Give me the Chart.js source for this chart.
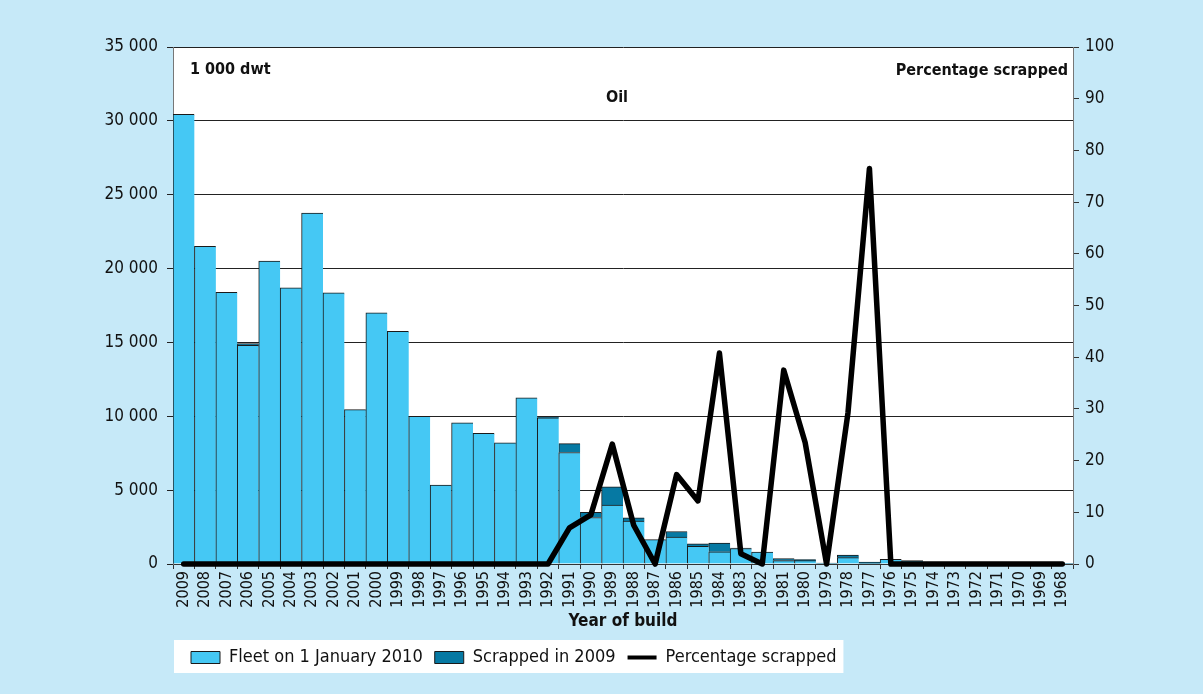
<!DOCTYPE html>
<html><head><meta charset="utf-8">
<script src="https://cdn.jsdelivr.net/npm/chart.js@4"></script>
<style>html,body{margin:0;padding:0;background:#c6e9f8;}canvas{display:block}</style>
</head><body>
<canvas id="c" width="1203" height="694"></canvas>
<script>
const years = ['2009','2008','2007','2006','2005','2004','2003','2002','2001','2000','1999','1998','1997','1996','1995','1994','1993','1992','1991','1990','1989','1988','1987','1986','1985','1984','1983','1982','1981','1980','1979','1978','1977','1976','1975','1974','1973','1972','1971','1970','1969','1968'];
const fleet = [30450,21500,18400,14800,20500,18700,23750,18350,10450,17000,15750,10000,5350,9550,8850,8200,11250,9900,7550,3150,3990,2900,1650,1820,1200,830,1050,800,230,230,60,430,30,320,230,40,30,30,30,20,20,20];
const scrapped = [0,0,0,120,0,0,0,0,0,0,0,0,0,0,0,0,0,60,600,350,1230,230,0,380,170,580,25,0,140,70,0,180,95,0,0,0,0,0,0,0,0,0];
const pctScrapped = [0,0,0,0,0,0,0,0,0,0,0,0,0,0,0,0,0,0,7,9.5,23.2,7.5,0,17.3,12.2,40.8,2,0,37.5,23.5,0,29.3,76.5,0,0,0,0,0,0,0,0,0];
const seriesNames = ['Fleet on 1 January 2010','Scrapped in 2009','Percentage scrapped'];
const axisTitle = 'Year of build';
const notes = {left:'1 000 dwt', center:'Oil', right:'Percentage scrapped'};

const FAM = "'Liberation Sans Narrow','DejaVu Sans Condensed','Arial Narrow',sans-serif";
const BG = '#c6e9f8';
const fmt = v => String(v).replace(/\B(?=(\d{3})+(?!\d))/g, ' ');

const deco = {
  id:'deco',
  afterLayout(chart){
    const lg = chart.legend;
    const h = lg.height;
    lg.left = 179; lg.right = 1203;
    lg.top = 656.5 - h/2; lg.bottom = lg.top + h;
  },
  beforeDraw(chart){
    const {ctx, chartArea:a} = chart;
    ctx.save();
    ctx.fillStyle = BG; ctx.fillRect(0,0,chart.width,chart.height);
    ctx.fillStyle = '#fff'; ctx.fillRect(a.left,a.top,a.right-a.left,a.bottom-a.top);
    const hb = chart.legend.legendHitBoxes;
    if (hb && hb.length){
      const l = Math.min(...hb.map(b=>b.left)) - 17;
      const r = Math.max(...hb.map(b=>b.left+b.width)) + 7;
      ctx.fillRect(l, 640, r-l, 33);
    }
    ctx.restore();
  },
  afterDatasetsDraw(chart){
    const {ctx} = chart;
    ctx.save();
    ctx.fillStyle = '#111';
    ctx.font = "bold 16px " + FAM;
    ctx.textBaseline = 'middle';
    ctx.textAlign = 'left'; ctx.fillText(notes.left, 190, 70);
    ctx.textAlign = 'center'; ctx.fillText(notes.center, 617, 98);
    ctx.textAlign = 'right'; ctx.fillText(notes.right, 1068, 71);
    ctx.restore();
  }
};

const chart = new Chart(document.getElementById('c'), {
  data:{
    labels: years,
    datasets:[
      {type:'bar', label:seriesNames[0], data:fleet, backgroundColor:'#45c8f4', borderColor:'#1a1a1a',
       borderWidth:{top:1,left:1,right:0,bottom:0}, borderSkipped:false, barPercentage:1, categoryPercentage:1, yAxisID:'y', order:1},
      {type:'bar', label:seriesNames[1], data:scrapped, backgroundColor:'#0679a3', borderColor:'#1a1a1a',
       borderWidth:{top:1,left:1,right:0,bottom:0}, borderSkipped:false, barPercentage:1, categoryPercentage:1, yAxisID:'y', order:1},
      {type:'line', label:seriesNames[2], data:pctScrapped, borderColor:'#000', backgroundColor:'#000', borderWidth:5.5,
       pointRadius:0, tension:0, yAxisID:'y1', order:0, borderJoinStyle:'round', borderCapStyle:'round', clip:false}
    ]
  },
  options:{
    responsive:false, animation:false, devicePixelRatio:1,
    layout:{padding:{top:47,left:0,right:0,bottom:20}},
    plugins:{
      tooltip:{enabled:false},
      legend:{position:'bottom', align:'start',
        labels:{usePointStyle:true, pointStyleWidth:29, boxWidth:29, boxHeight:12, padding:12, color:'#111',
          font:{family:FAM, size:18},
          generateLabels(chart){
            return chart.data.datasets.map((ds,i)=>({
              text:ds.label, datasetIndex:i, hidden:false,
              fillStyle: ds.type==='line' ? '#000' : ds.backgroundColor,
              strokeStyle: ds.type==='line' ? '#000' : '#1a1a1a',
              lineWidth: ds.type==='line' ? 4 : 1,
              pointStyle: ds.type==='line' ? 'line' : 'rect',
              fontColor:'#111'
            }));
          }
        }
      }
    },
    scales:{
      x:{stacked:true, offset:true,
        grid:{display:true, offset:true, drawOnChartArea:false, drawTicks:true, tickLength:5, color:'#333'},
        border:{color:'#333'},
        ticks:{autoSkip:false, minRotation:90, maxRotation:90, padding:2, color:'#111', font:{family:FAM, size:16}},
        title:{display:true, text:axisTitle, color:'#111', font:{family:FAM, size:17, weight:'bold'}, padding:{top:0,bottom:8}},
        afterFit(s){ s.height = 76; }
      },
      y:{stacked:true, position:'left', min:0, max:35000,
        ticks:{stepSize:5000, padding:9, color:'#111', font:{family:FAM, size:17}, callback:v=>fmt(v)},
        grid:{color:'#222', tickLength:6},
        border:{color:'#777'},
        afterFit(s){ s.width = 173; }
      },
      y1:{position:'right', min:0, max:100,
        ticks:{stepSize:10, padding:6, color:'#111', font:{family:FAM, size:17}},
        grid:{drawOnChartArea:false, tickLength:6, color:'#333'},
        border:{color:'#777'},
        afterFit(s){ s.width = 130; }
      }
    }
  },
  plugins:[deco]
});
const lh = chart.legend.height;
chart.options.layout.padding.bottom = Math.max(0, 694 - 564 - 76 - lh);
chart.update();
</script>
</body></html>
